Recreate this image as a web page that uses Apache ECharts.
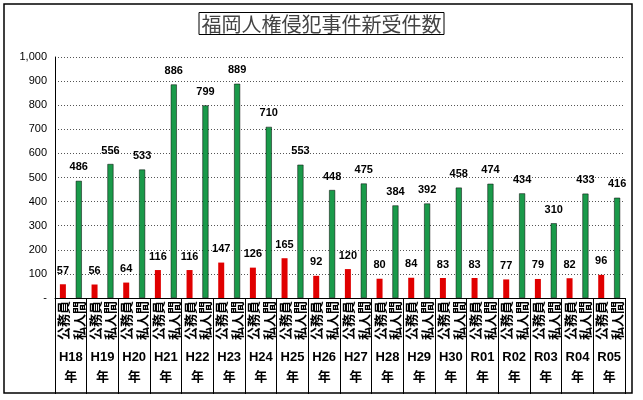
<!DOCTYPE html>
<html lang="ja">
<head>
    <meta charset="UTF-8">
    <title>福岡人権侵犯事件新受件数</title>
    <script src="https://cdn.jsdelivr.net/npm/echarts@6/dist/echarts.min.js"></script>
    <style>
        body { margin: 0; background: #fff; }
    </style>
</head>
<body>
    <div id="chart" style="width:643px;height:400px;"></div>
    <script>
        const years = ['H18', 'H19', 'H20', 'H21', 'H22', 'H23', 'H24', 'H25', 'H26', 'H27', 'H28', 'H29', 'H30', 'R01', 'R02', 'R03', 'R04', 'R05'];
        const officials = [57, 56, 64, 116, 116, 147, 126, 165, 92, 120, 80, 84, 83, 83, 77, 79, 82, 96];
        const privates = [486, 556, 533, 886, 799, 889, 710, 553, 448, 475, 384, 392, 458, 474, 434, 310, 433, 416];
        const subLabels = ['公務員', '私人間'];

        let font = '"Liberation Sans", "Noto Sans CJK JP", sans-serif';
        let chart = echarts.init(document.getElementById('chart'));
        let option = {
            animation: false,
            textStyle: { fontFamily: font },
            title: {
                text: '福岡人権侵犯事件新受件数',
                left: 'center',
                top: 12,
                padding: [2, 3, 1, 3],
                borderColor: '#000',
                borderWidth: 1,
                textStyle: { fontSize: 20, fontWeight: 'normal', color: '#444', fontFamily: '"Noto Sans CJK JP"' }
            },
            graphic: [{
                type: 'rect',
                shape: { x: 4, y: 4, width: 628, height: 389 },
                style: { fill: 'none', stroke: '#000', lineWidth: 1.5 },
                silent: true
            }],
            grid: { left: 55, right: 18, top: 57, bottom: 102 },
            xAxis: [{
                type: 'category',
                data: years,
                axisLine: { lineStyle: { color: '#000' } },
                axisTick: { show: true, interval: 0, length: 96, lineStyle: { color: '#000', width: 1 } },
                axisLabel: {
                    interval: 0, margin: 49, lineHeight: 20,
                    fontSize: 13, fontWeight: 'bold', color: '#000',
                    formatter: v => v + '\n年'
                },
                z: 10
            }, {
                type: 'category',
                position: 'bottom',
                data: years.flatMap(() => subLabels),
                axisLine: { show: false },
                axisTick: { show: false },
                axisLabel: {
                    interval: 0, rotate: 90, margin: 3,
                    fontSize: 13, fontWeight: 'bold', color: '#000',
                    fontFamily: '"Noto Sans CJK JP"'
                }
            }],
            yAxis: {
                type: 'value',
                min: 0, max: 1000, interval: 100,
                axisLine: { show: true, lineStyle: { color: '#000' } },
                axisTick: { show: false },
                axisLabel: {
                    fontSize: 11, color: '#000',
                    formatter: v => v === 0 ? '-' : v.toLocaleString('en-US')
                },
                splitLine: { lineStyle: { color: '#555', type: [1, 2] } }
            },
            series: [{
                name: '公務員',
                type: 'bar',
                data: officials,
                barWidth: 6,
                barGap: '165%',
                itemStyle: { color: '#e00000' },
                label: { show: true, position: 'top', distance: 8, fontSize: 11, fontWeight: 'bold', color: '#000' }
            }, {
                name: '私人間',
                type: 'bar',
                data: privates,
                barWidth: 6,
                itemStyle: { color: '#1a9a4a', borderColor: '#000', borderWidth: 0.5 },
                label: { show: true, position: 'top', distance: 8, fontSize: 11, fontWeight: 'bold', color: '#000' }
            }]
        };
        chart.setOption(option);
    </script>
</body>
</html>
